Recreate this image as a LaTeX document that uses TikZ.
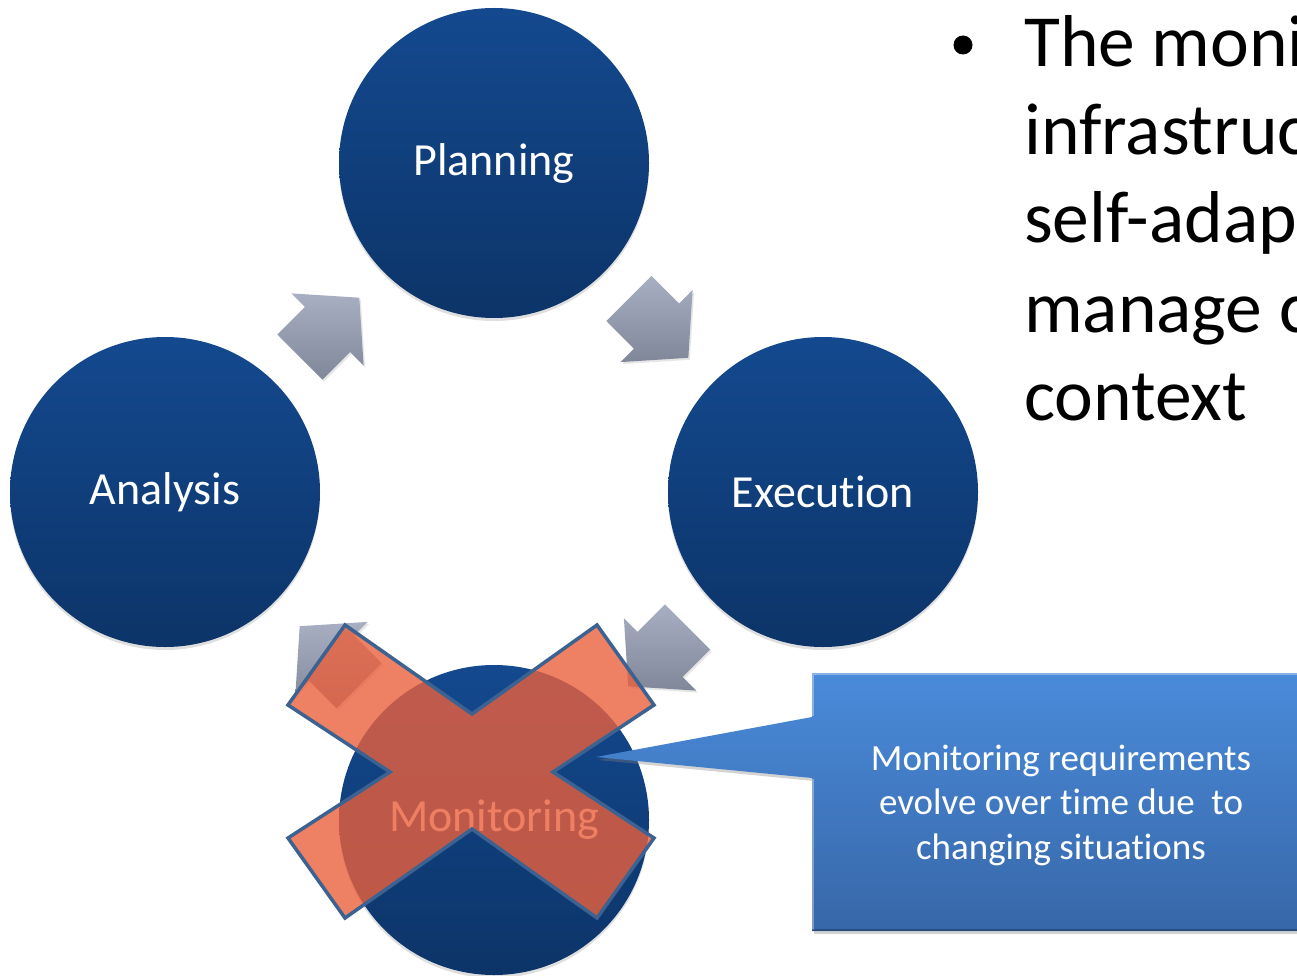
\documentclass[tikz,border=0pt]{standalone}
\usepackage{fontspec}
\setmainfont{Carlito}[RawFeature={-liga;-clig;-calt;-dlig}]
\usetikzlibrary{shadows}
\definecolor{cTop}{RGB}{20,73,143}
\definecolor{cBot}{RGB}{12,52,104}
\definecolor{aTop}{RGB}{168,175,194}
\definecolor{aBot}{RGB}{128,135,153}
\definecolor{xFill}{RGB}{234,96,61}
\definecolor{xLine}{RGB}{60,98,146}
\definecolor{bTop}{RGB}{74,139,218}
\definecolor{bBot}{RGB}{55,103,168}
\begin{document}
\begin{tikzpicture}[x=1pt,y=-1pt,
  stage/.style={circle, minimum size=310pt, inner sep=0pt, top color=cTop, bottom color=cBot,
    text=white, font=\fontsize{46}{50}\selectfont,
    drop shadow={opacity=0.25, shadow xshift=0pt, shadow yshift=-3pt}},
  blockarrow/.style={top color=aTop, bottom color=aBot, draw=none,
    drop shadow={opacity=0.2, shadow xshift=1.5pt, shadow yshift=-2pt}},
  crossmark/.style={fill=xFill, fill opacity=0.8, draw=xLine, line width=3.5pt, line join=miter},
  callout/.style={top color=bTop, bottom color=bBot, draw=none,
    drop shadow={opacity=0.35, shadow xshift=2pt, shadow yshift=-3pt}},
  calltext/.style={text=white, align=center, font=\fontsize{37}{44.5}\selectfont},
  bigtext/.style={anchor=base west, inner sep=0pt, font=\fontsize{73.5}{88}\selectfont}]
\useasboundingbox (0,0) rectangle (1297,976);
\clip (0,0) rectangle (1297,976);

% block arrows
\path[blockarrow] (359.3,297.7) -- (363.6,365.6) -- (350.1,352.1) -- (322.5,379.7) -- (277.3,334.5) -- (304.9,306.9) -- (291.4,293.4) -- cycle;
\path[blockarrow] (688.3,357.8) -- (620.4,362.1) -- (633.9,348.6) -- (606.3,321) -- (651.5,275.8) -- (679.1,303.4) -- (692.6,289.9) -- cycle;
\path[blockarrow] (628.2,686.3) -- (623.9,618.4) -- (637.4,631.9) -- (665,604.3) -- (710.2,649.5) -- (682.6,677.1) -- (696.1,690.6) -- cycle;
\path[blockarrow] (299.7,626.2) -- (367.6,621.9) -- (354.1,635.4) -- (381.7,663) -- (336.5,708.2) -- (308.9,680.6) -- (295.4,694.1) -- cycle;

% stages
\node[stage] (plan) at (494,163) {Planning};
\node[stage] (ana) at (165,492) {Analysis};
\node[stage] (exe) at (823,492) {Execution};
\node[stage] (mon) at (494,820) {Monitoring};

% cross
\path[crossmark] (345,625) -- (472,714) -- (597,625) -- (654,705) -- (553,772) -- (654,838)
  -- (597,918) -- (472,829) -- (345,918) -- (288,838) -- (390,772) -- (288,705) -- cycle;

% callout
\path[callout] (812,673) -- (1320,673) -- (1320,931) -- (812,931) -- (812,778) -- (596,757) -- (812,717) -- cycle;
\draw[white, opacity=0.35, line width=2pt] (813,779) -- (813,930);
\draw[white, opacity=0.35, line width=2pt] (813,716) -- (813,674) -- (1320,674);
\draw[black, opacity=0.25, line width=2pt] (812,930) -- (1320,930);
\node[calltext] (note) at (1061,805) {Monitoring requirements\\evolve over time due \ to\\changing situations};
\coordinate (tip) at (596,757);

% bullet text
\fill (963,45) circle (9.5);
\node[bigtext] (l1) at (1024,67) {The moni};
\node[bigtext] (l2) at (1024,155) {infrastruc};
\node[bigtext] (l3) at (1024,243) {self-adap};
\node[bigtext] (l4) at (1024,332) {manage c};
\node[bigtext] (l5) at (1024,420) {context};
\end{tikzpicture}
\end{document}
